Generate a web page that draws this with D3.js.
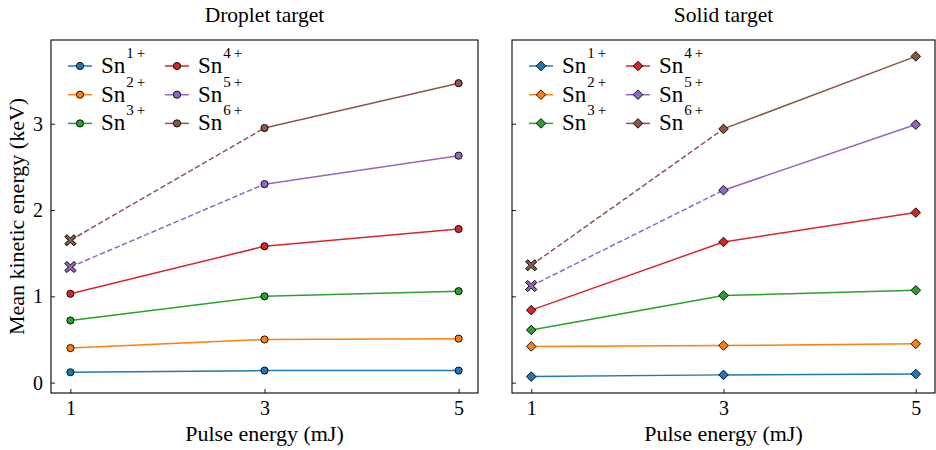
<!DOCTYPE html>
<html><head><meta charset="utf-8">
<script src="https://cdn.jsdelivr.net/npm/d3@7"></script>
<style>body{margin:0;background:#fff}svg{display:block}text{font-family:"Liberation Serif","Times New Roman",serif}</style>
</head><body>
<svg id="c" width="936" height="450"></svg>
<script>
const pulseEnergies = [1, 3, 5];
const ions = ["1+", "2+", "3+", "4+", "5+", "6+"];
const colors = ["#1f77b4", "#ff7f0e", "#2ca02c", "#d62728", "#9467bd", "#8c564b"];
const dropletValues = [
  [0.12, 0.14, 0.14],
  [0.40, 0.50, 0.51],
  [0.72, 1.00, 1.06],
  [1.03, 1.58, 1.78],
  [1.34, 2.30, 2.63],
  [1.65, 2.95, 3.47]
];
const solidValues = [
  [0.07, 0.09, 0.10],
  [0.42, 0.43, 0.45],
  [0.61, 1.01, 1.07],
  [0.84, 1.63, 1.97],
  [1.12, 2.23, 2.99],
  [1.36, 2.94, 3.78]
];
const dashedFirst = [false, false, false, false, true, true];
const yTicks = [0, 1, 2, 3];
const panels = [
  {title: "Droplet target", values: dropletValues, marker: "circle", x0: 51, x1: 478, ylabel: true},
  {title: "Solid target", values: solidValues, marker: "diamond", x0: 512, x1: 935, ylabel: false}
];

const svg = d3.select("#c");
const plotTop = 40, plotBottom = 393;
const y = d3.scaleLinear().domain([-0.12, 3.97]).range([plotBottom, plotTop]);

function drawMarker(g, type, cx, cy, color) {
  if (type === "circle") {
    g.append("circle").attr("cx", cx).attr("cy", cy).attr("r", 3.6)
      .attr("fill", color).attr("stroke", "#000").attr("stroke-width", 0.9);
  } else if (type === "diamond") {
    const s = 4.8;
    g.append("path").attr("d", `M${cx},${cy-s}L${cx+s},${cy}L${cx},${cy+s}L${cx-s},${cy}Z`)
      .attr("fill", color).attr("stroke", "#000").attr("stroke-width", 0.9);
  } else if (type === "x") {
    const a = 5.6, b = 2.1;
    const pts = [[-a+b,-a],[0,-b],[a-b,-a],[a,-a+b],[b,0],[a,a-b],[a-b,a],[0,b],[-a+b,a],[-a,a-b],[-b,0],[-a,-a+b]];
    g.append("path").attr("d", "M" + pts.map(p => [cx+p[0], cy+p[1]].join(",")).join("L") + "Z")
      .attr("fill", color).attr("stroke", "#000").attr("stroke-width", 1);
  }
}

panels.forEach(p => {
  const x = d3.scaleLinear().domain([0.8, 5.2]).range([p.x0, p.x1]);
  const g = svg.append("g");
  const xa = g.append("g").attr("transform", `translate(0,${plotBottom})`)
    .call(d3.axisBottom(x).tickValues(pulseEnergies).tickSize(-4).tickPadding(8).tickFormat(d3.format("d")));
  const ya = g.append("g").attr("transform", `translate(${p.x0},0)`)
    .call(d3.axisLeft(y).tickValues(yTicks).tickSize(-4).tickPadding(8).tickFormat(p.ylabel ? d3.format("d") : ""));
  [xa, ya].forEach(a => {
    a.select(".domain").remove();
    a.selectAll("line").attr("stroke", "#000").attr("stroke-width", 0.9);
    a.selectAll("text").attr("font-size", 20).attr("fill", "#000")
      .style("font-family", '"Liberation Serif", serif');
  });
  g.append("rect").attr("x", p.x0).attr("y", plotTop).attr("width", p.x1 - p.x0).attr("height", plotBottom - plotTop)
    .attr("fill", "none").attr("stroke", "#000").attr("stroke-width", 1.1);

  p.values.forEach((vals, i) => {
    const pts = pulseEnergies.map((e, j) => [x(e), y(vals[j])]);
    const line = d3.line();
    g.append("path").attr("d", line(pts.slice(0, 2))).attr("fill", "none")
      .attr("stroke", colors[i]).attr("stroke-width", 1.5)
      .attr("stroke-dasharray", dashedFirst[i] ? "5.5,2.5" : null);
    g.append("path").attr("d", line(pts.slice(1))).attr("fill", "none")
      .attr("stroke", colors[i]).attr("stroke-width", 1.5);
    pts.forEach((pt, j) => {
      const type = (dashedFirst[i] && j === 0) ? "x" : p.marker;
      drawMarker(g, type, pt[0], pt[1], colors[i]);
    });
  });

  ions.forEach((ion, i) => {
    const col = Math.floor(i / 3), row = i % 3;
    const lx = p.x0 + 17 + col * 97, ly = 66 + row * 28.7;
    g.append("line").attr("x1", lx).attr("x2", lx + 24).attr("y1", ly).attr("y2", ly)
      .attr("stroke", colors[i]).attr("stroke-width", 1.5);
    drawMarker(g, p.marker, lx + 12, ly, colors[i]);
    const t = g.append("text").attr("x", lx + 33).attr("y", ly + 7).attr("font-size", 23).attr("fill", "#000");
    t.append("tspan").text("Sn");
    t.append("tspan").attr("dx", 1).attr("dy", -15).attr("font-size", 15).text(ion.replace("+", "\u2009+"));
  });

  g.append("text").attr("x", (p.x0 + p.x1) / 2).attr("y", 22).attr("text-anchor", "middle")
    .attr("font-size", 21.5).attr("fill", "#000").text(p.title);
  g.append("text").attr("x", (p.x0 + p.x1) / 2).attr("y", 441).attr("text-anchor", "middle")
    .attr("font-size", 22).attr("fill", "#000").text("Pulse energy (mJ)");
  if (p.ylabel) {
    g.append("text").attr("transform", `translate(24,${(plotTop + plotBottom) / 2}) rotate(-90)`)
      .attr("text-anchor", "middle").attr("font-size", 22).attr("fill", "#000").text("Mean kinetic energy (keV)");
  }
});
</script>
</body></html>
